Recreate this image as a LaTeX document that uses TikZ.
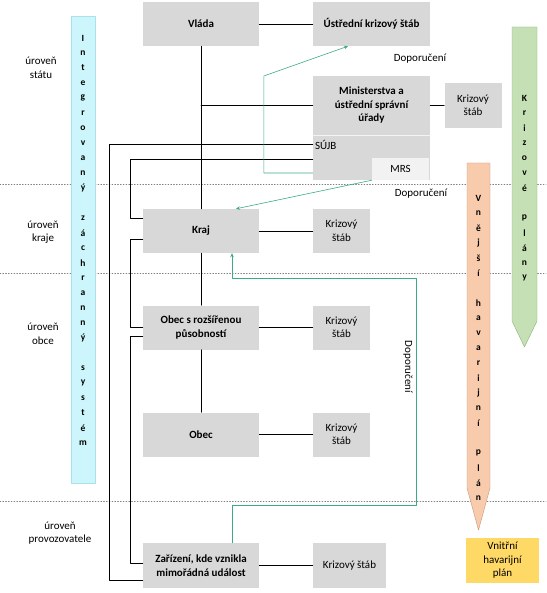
\documentclass[tikz,border=0pt]{standalone}
\usepackage{fontspec}
\setmainfont{Carlito}
\usetikzlibrary{arrows.meta}
\definecolor{boxgray}{RGB}{216,216,216}
\definecolor{mrsgray}{RGB}{242,242,242}
\definecolor{advgreen}{RGB}{60,170,135}
\definecolor{izsfill}{RGB}{204,246,252}
\definecolor{izsedge}{RGB}{170,225,235}
\definecolor{planfill}{RGB}{197,224,180}
\definecolor{planedge}{RGB}{140,180,120}
\definecolor{extfill}{RGB}{248,203,173}
\definecolor{extedge}{RGB}{200,150,120}
\definecolor{intfill}{RGB}{255,217,102}
\newcommand\diagfont{\fontsize{11}{13.5}\selectfont}
\tikzset{
  unit/.style={fill=boxgray, font=\diagfont\bfseries, minimum width=116pt,
    minimum height=44pt, inner sep=1pt, align=center},
  staff/.style={fill=boxgray, font=\diagfont, minimum width=57pt,
    minimum height=44pt, inner sep=1pt, align=center},
  link/.style={line width=0.6pt},
  advice/.style={draw=advgreen, line width=0.6pt},
  level/.style={font=\diagfont, align=center},
  barletter/.style={font=\fontsize{9.5}{10}\selectfont\bfseries, inner sep=0pt},
}
\begin{document}
\begin{tikzpicture}[x=1pt,y=-1pt,line cap=round,line join=round]
  \useasboundingbox (0,0) rectangle (546,593);
  % level separators
  \foreach \ly in {184,273,501}
    \draw[gray, dotted, line width=0.8pt] (0,\ly) -- (546,\ly);
  % levels
  \node[level] (lstat) at (41,68) {úroveň\\státu};
  \node[level] (lkraj) at (43,232) {úroveň\\kraje};
  \node[level] (lobec) at (43,334) {úroveň\\obce};
  \node[level] (lprov) at (60,533) {úroveň\\provozovatele};
  % bars
  \draw[draw=izsedge, fill=izsfill] (71,16) rectangle (95,483);
  \foreach \ch [count=\i from 0] in {I,n,t,e,g,r,o,v,a,n,ý,{},z,á,c,h,r,a,n,n,ý,{},s,y,s,t,é,m}
    \node[barletter] (izs\i) at (83,38+15*\i) {\ch};
  \draw[draw=planedge, fill=planfill] (512,27) -- (537,27) -- (537,321) -- (524.5,347) -- (512,321) -- cycle;
  \foreach \ch [count=\i from 0] in {K,r,i,z,o,v,é,{},p,l,á,n,y}
    \node[barletter] (kp\i) at (524.5,98+15*\i) {\ch};
  \draw[draw=extedge, fill=extfill] (467,163) -- (490,163) -- (490,488) -- (478.5,530) -- (467,488) -- cycle;
  \foreach \ch [count=\i from 0] in {V,n,ě,j,š,í,{},h,a,v,a,r,i,j,n,í,{},p,l,á,n}
    \node[barletter] (vhp\i) at (478.5,198+15*\i) {\ch};
  \node[fill=intfill, font=\diagfont, minimum width=73pt, minimum height=45pt,
    inner sep=1pt, align=center] (ihp) at (502.5,560.5) {Vnitřní\\havarijní\\plán};
  % units
  \node[unit] (vlada) at (201,24) {Vláda};
  \node[unit, minimum width=117pt] (uks) at (371.5,24) {Ústřední krizový štáb};
  \node[unit, minimum width=117pt, minimum height=59pt] (min) at (371.5,105.5)
    {Ministerstva a\\ústřední správní\\úřady};
  \node[fill=boxgray, minimum width=117pt, minimum height=45pt, inner sep=0pt] (sujb) at (371.5,157.5) {};
  \draw[white!70!boxgray] (min.south west) -- (min.south east);
  \node[font=\diagfont, anchor=west, inner sep=2pt] (sujbtext) at ([yshift=12.5pt]sujb.west) {SÚJB};
  \node[fill=mrsgray, font=\diagfont, minimum width=57pt, minimum height=22pt, inner sep=1pt] (mrs) at (400.5,169) {MRS};
  \node[staff, minimum height=45pt] (ks1) at (473,105.5) {Krizový\\štáb};
  \node[unit] (kraj) at (201,231) {Kraj};
  \node[staff] (ks2) at (341.5,231) {Krizový\\štáb};
  \node[unit] (orp) at (201,327.5) {Obec s rozšířenou\\působností};
  \node[staff] (ks3) at (341.5,327.5) {Krizový\\štáb};
  \node[unit] (obec) at (201,434.5) {Obec};
  \node[staff] (ks4) at (341.5,434.5) {Krizový\\štáb};
  \node[unit, minimum height=45pt] (zar) at (201,565.5) {Zařízení, kde vznikla\\mimořádná událost};
  \node[staff, minimum width=73pt, minimum height=45pt] (ks5) at (349.5,565.5) {Krizový štáb};
  % hierarchy
  \draw[link] (vlada) -- (uks);
  \draw[link] (vlada) -- (kraj);
  \draw[link] (kraj) -- (orp);
  \draw[link] (orp) -- (obec);
  \draw[link] (vlada.south |- min.west) -- (min.west);
  \draw[link] (min) -- (ks1);
  \draw[link] (kraj) -- (ks2);
  \draw[link] (orp) -- (ks3);
  \draw[link] (obec) -- (ks4);
  \draw[link] (zar) -- (ks5);
  \draw[link] ([yshift=13.5pt]sujb.west) -- ++(-204,0) |- ([yshift=-14.5pt]zar.west);
  \draw[link] ([yshift=-1.5pt]sujb.west) -- ++(-183,0) |- ([yshift=13pt]kraj.west);
  \draw[link] ([yshift=-8pt]kraj.west) -- ++(-13,0) |- ([yshift=0.5pt]orp.west);
  \draw[link] ([yshift=-8.5pt]orp.west) -- ++(-13,0) |- ([yshift=2.5pt]zar.west);
  % recommendations
  \draw[advice, -{Stealth[length=4pt,width=3.5pt]}] ([yshift=-15.5pt]sujb.west) -- ++(-49,0)
    -- ++(0,-97) -- ([xshift=-23.5pt]uks.south);
  \draw[advice, -{Stealth[length=4pt,width=3.5pt]}] (mrs.south west) -- ([xshift=35pt]kraj.north);
  \draw[advice, -{Stealth[length=4pt,width=3.5pt]}] ([xshift=31pt]zar.north) -- ++(0,-38)
    -- ++(184,0) -- ++(0,-227) -- ++(-184,0) -- ([xshift=31pt]kraj.south);
  \node[font=\diagfont] (dop1) at (420,59) {Doporučení};
  \node[font=\diagfont] (dop2) at (421,194) {Doporučení};
  \node[font=\diagfont, rotate=-90] (dop3) at (408,367) {Doporučení};
\end{tikzpicture}
\end{document}
